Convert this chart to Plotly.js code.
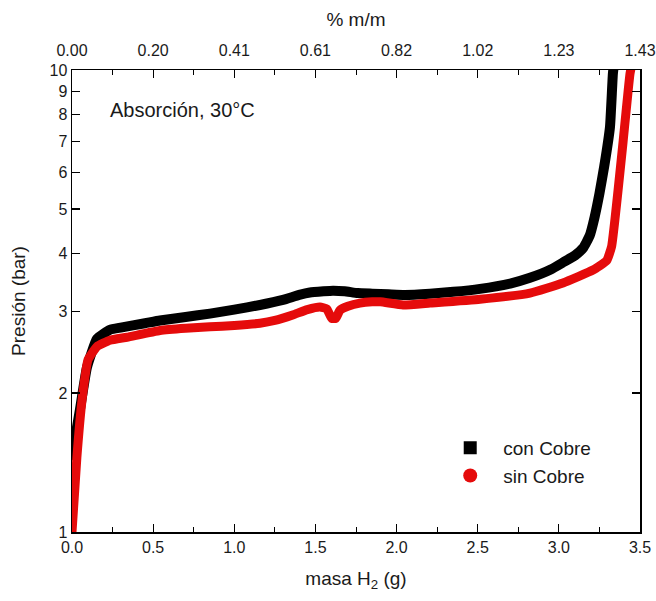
<!DOCTYPE html>
<html>
<head>
<meta charset="utf-8">
<script src="https://cdn.plot.ly/plotly-3.0.1.min.js"></script>
<style>html,body{margin:0;padding:0;background:#fff;}#chart{width:656px;height:601px;}</style>
</head>
<body>
<div id="chart"></div>
<script>
// con Cobre (black squares)
const conCobreX = [0.0, 0.02, 0.049, 0.092, 0.154, 0.234, 0.30, 0.45, 0.542, 0.70, 0.85, 1.00, 1.158, 1.30, 1.40, 1.466, 1.55, 1.608, 1.68, 1.76, 1.85, 1.95, 2.05, 2.206, 2.35, 2.514, 2.70, 2.822, 2.95, 3.03, 3.10, 3.15, 3.19, 3.22, 3.25, 3.28, 3.315, 3.333, 3.34];
const conCobreY = [1.43, 1.60, 1.84, 2.27, 2.62, 2.74, 2.77, 2.83, 2.87, 2.92, 2.97, 3.03, 3.10, 3.18, 3.26, 3.30, 3.32, 3.33, 3.32, 3.29, 3.28, 3.27, 3.26, 3.28, 3.31, 3.36, 3.45, 3.55, 3.70, 3.84, 3.97, 4.12, 4.38, 4.80, 5.40, 6.20, 7.53, 9.83, 10.3];
// sin Cobre (red circles)
const sinCobreX = [0.0, 0.03, 0.062, 0.099, 0.154, 0.234, 0.339, 0.542, 0.70, 0.85, 1.00, 1.158, 1.25, 1.36, 1.45, 1.528, 1.57, 1.60, 1.625, 1.651, 1.70, 1.774, 1.85, 1.90, 2.04, 2.206, 2.514, 2.822, 3.025, 3.21, 3.295, 3.325, 3.345, 3.365, 3.395, 3.438, 3.45];
const sinCobreY = [1.0, 1.45, 1.93, 2.36, 2.52, 2.60, 2.64, 2.73, 2.76, 2.78, 2.80, 2.83, 2.87, 2.95, 3.03, 3.07, 3.04, 2.90, 2.90, 3.02, 3.08, 3.13, 3.15, 3.15, 3.10, 3.13, 3.19, 3.29, 3.46, 3.69, 3.87, 4.15, 4.73, 5.50, 6.95, 9.8, 10.3];

const bottomTickVals = [0, 0.5, 1.0, 1.5, 2.0, 2.5, 3.0, 3.5];
const bottomTickText = ['0.0', '0.5', '1.0', '1.5', '2.0', '2.5', '3.0', '3.5'];
const topTickText = ['0.00', '0.20', '0.41', '0.61', '0.82', '1.02', '1.23', '1.43'];
const yTickVals = [1, 2, 3, 4, 5, 6, 7, 8, 9, 10];
const yTickText = ['1', '2', '3', '4', '5', '6', '7', '8', '9', '10'];
const seriesNames = ['con Cobre', 'sin Cobre'];

const FONT = 'Liberation Sans, Arial, sans-serif';
const TXT = '#1a1a1a';

const traces = [
  {x: conCobreX, y: conCobreY, mode: 'lines', line: {color: '#000000', width: 10, shape: 'spline', smoothing: 0.4}, showlegend: false, hoverinfo: 'skip'},
  {x: sinCobreX, y: sinCobreY, mode: 'lines', line: {color: '#e50b0b', width: 9, shape: 'spline', smoothing: 0.4}, showlegend: false, hoverinfo: 'skip'},
  {x: conCobreX, y: conCobreY, xaxis: 'x2', mode: 'lines', opacity: 0, showlegend: false, hoverinfo: 'skip'},
  {x: [null], y: [null], mode: 'markers', name: seriesNames[0], marker: {symbol: 'square', size: 13, color: '#000000'}},
  {x: [null], y: [null], mode: 'markers', name: seriesNames[1], marker: {symbol: 'circle', size: 14, color: '#e50b0b'}}
];

const axisCommon = {
  showline: true, linecolor: '#000', linewidth: 1.5,
  ticks: 'inside', tickcolor: '#000', tickwidth: 1.2, ticklen: 8,
  showgrid: false, zeroline: false,
  tickfont: {family: FONT, size: 16, color: TXT}
};

const layout = {
  width: 656, height: 601,
  margin: {l: 72, r: 16, t: 70, b: 69},
  paper_bgcolor: '#fff', plot_bgcolor: '#fff',
  font: {family: FONT, color: TXT},
  xaxis: Object.assign({}, axisCommon, {
    range: [0, 3.5], tickmode: 'array', tickvals: bottomTickVals, ticktext: bottomTickText,
    minor: {dtick: 0.25, tick0: 0, ticks: 'inside', ticklen: 5, tickcolor: '#000', tickwidth: 1},
    title: {text: 'masa H<sub>2</sub> (g)', font: {family: FONT, size: 19, color: TXT}, standoff: 17},
    mirror: false
  }),
  xaxis2: Object.assign({}, axisCommon, {
    overlaying: 'x', side: 'top', range: [0, 3.5], matches: 'x',
    tickmode: 'array', tickvals: bottomTickVals, ticktext: topTickText,
    ticklabelstandoff: 6,
    minor: {dtick: 0.25, tick0: 0, ticks: 'inside', ticklen: 5, tickcolor: '#000', tickwidth: 1},
    title: {text: '% m/m', font: {family: FONT, size: 19, color: TXT}, standoff: 10}
  }),
  yaxis: Object.assign({}, axisCommon, {
    type: 'log', range: [0, 1], tickmode: 'array', tickvals: yTickVals, ticktext: yTickText,
    mirror: 'ticks',
    title: {text: 'Presión (bar)', font: {family: FONT, size: 19, color: TXT}, standoff: 19}
  }),
  legend: {
    x: 0.643, y: 0.223, xanchor: 'left', yanchor: 'top',
    bgcolor: 'rgba(0,0,0,0)', borderwidth: 0,
    font: {family: FONT, size: 19, color: TXT},
    tracegroupgap: 0, itemwidth: 56
  },
  annotations: [{
    text: 'Absorción, 30°C', xref: 'paper', yref: 'paper',
    x: (108 - 72) / 568, y: (532 - 110) / 462, xanchor: 'left', yanchor: 'middle',
    showarrow: false, font: {family: FONT, size: 20, color: TXT}
  }],
  showlegend: true
};

Plotly.newPlot('chart', traces, layout, {displayModeBar: false, staticPlot: true});
</script>
</body>
</html>
